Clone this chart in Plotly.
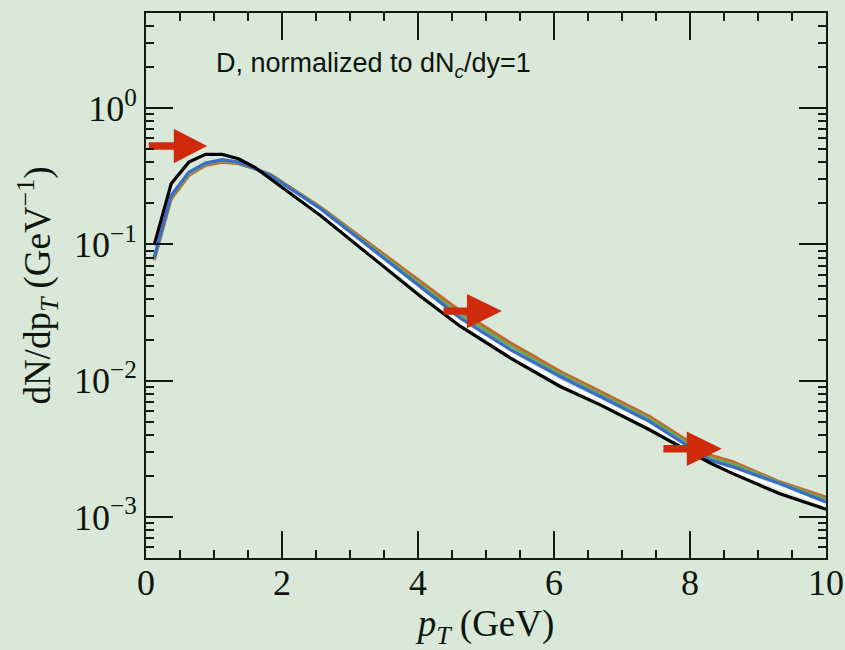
import plotly.graph_objects as go

# ---- data ----
pt = [0.12, 0.37, 0.63, 0.875, 1.12, 1.36, 1.6, 1.83, 2.57, 3.30, 4.03, 4.62, 5.36,
      6.09, 6.68, 7.41, 8.29, 8.63, 9.32, 10.0]

black = [0.099, 0.279, 0.402, 0.4585, 0.4585, 0.426, 0.368, 0.3035, 0.1627, 0.0825,
         0.0418, 0.02514, 0.01468, 0.00907, 0.00665, 0.00435, 0.0025, 0.00208, 0.00148, 0.00114]
white = [0.0802, 0.2286, 0.3396, 0.3956, 0.419, 0.402, 0.362, 0.314, 0.172, 0.0885,
         0.0455, 0.0269, 0.01575, 0.00985, 0.00712, 0.00466, 0.00255, 0.00220, 0.00161, 0.00121]
blue = [0.0802, 0.2286, 0.3396, 0.3956, 0.419, 0.402, 0.362, 0.321, 0.1824, 0.0950,
        0.0496, 0.02894, 0.01693, 0.01075, 0.00766, 0.00501, 0.002615, 0.002333, 0.00176, 0.00129]
green = [0.0785, 0.222, 0.330, 0.388, 0.411, 0.397, 0.361, 0.324, 0.185, 0.098,
         0.0518, 0.0307, 0.0180, 0.01125, 0.00802, 0.00525, 0.00274, 0.00245, 0.00179, 0.00135]
orange = [0.0767, 0.216, 0.321, 0.380, 0.402, 0.3916, 0.36, 0.3265, 0.1874, 0.1007,
          0.054, 0.03243, 0.01893, 0.0117, 0.00834, 0.00545, 0.002846, 0.00254, 0.00181, 0.0014]

# red arrows: tail pT, shaft-end pT, tip pT, centre log10(y)
arrow_tail = [0.04, 4.376, 7.609]
arrow_neck = [0.409, 4.72, 7.953]
arrow_tip = [0.899, 5.234, 8.467]
arrow_logy = [-0.277, -1.489, -2.499]
shaft_half = 0.027   # decades
head_half = 0.126    # decades

y_ticks = [1e-3, 1e-2, 1e-1, 1]
y_ticktext = ["10<sup>\u22123</sup>", "10<sup>\u22122</sup>", "10<sup>\u22121</sup>", "10<sup>0</sup>"]
y_minor = [m * 10.0 ** e for e in range(-4, 1) for m in range(2, 10)]
x_ticks = [0, 2, 4, 6, 8, 10]

BG = "#d9e8d8"
AX = "#0f1c0f"
TXT = "#0d160d"

fig = go.Figure()

def add_line(y, color, width):
    fig.add_trace(go.Scatter(x=pt, y=y, mode="lines",
                             line=dict(color=color, width=width), showlegend=False,
                             hoverinfo="skip"))

add_line(white, "#ffffff", 3)
add_line(orange, "#c9652a", 3.2)
add_line(green, "#6aa85a", 3)
add_line(blue, "#3b6cc6", 3.2)
add_line(black, "#000000", 3.2)

for t, n, p, ly in zip(arrow_tail, arrow_neck, arrow_tip, arrow_logy):
    xs = [t, n, n, p, n, n, t, t]
    ls = [ly + shaft_half, ly + shaft_half, ly + head_half, ly, ly - head_half,
          ly - shaft_half, ly - shaft_half, ly + shaft_half]
    fig.add_trace(go.Scatter(x=xs, y=[10 ** v for v in ls], mode="lines",
                             fill="toself", fillcolor="#cf2a0c",
                             line=dict(color="#cf2a0c", width=0),
                             showlegend=False, hoverinfo="skip"))

fig.add_annotation(text="D, normalized to dN<sub><i>c</i></sub>/dy=1",
                   xref="paper", yref="paper", x=0.100, y=0.905,
                   xanchor="left", yanchor="middle", showarrow=False,
                   font=dict(family="Liberation Sans", size=27, color=TXT))

serif = "Liberation Serif"
fig.update_layout(
    width=845, height=650,
    margin=dict(l=146, r=19, t=13, b=92, autoexpand=False),
    paper_bgcolor=BG, plot_bgcolor=BG,
    font=dict(family=serif, color=TXT),
    xaxis=dict(range=[0, 10], tickmode="array", tickvals=x_ticks,
               ticks="inside", ticklen=27, tickwidth=1.5, tickcolor=AX,
               showline=True, linewidth=2, linecolor=AX, mirror="allticks",
               showgrid=False, zeroline=False, ticklabelstandoff=-8,
               minor=dict(dtick=0.5, ticks="inside", ticklen=8, tickwidth=1.5,
                          tickcolor=AX, showgrid=False),
               tickfont=dict(family=serif, size=36, color=TXT),
               title=dict(text="<i>p<sub>T</sub></i> (GeV)",
                          font=dict(family=serif, size=37, color=TXT),
                          standoff=27)),
    yaxis=dict(type="log", range=[-3.301, 0.699],
               tickmode="array", tickvals=y_ticks, ticktext=y_ticktext,
               ticks="inside", ticklen=27, tickwidth=1.5, tickcolor=AX,
               showline=True, linewidth=2, linecolor=AX, mirror="allticks",
               showgrid=False, zeroline=False,
               minor=dict(tickmode="array", tickvals=y_minor, ticks="inside",
                          ticklen=8, tickwidth=1.5, tickcolor=AX, showgrid=False),
               tickfont=dict(family=serif, size=36, color=TXT),
               title=dict(text="dN/dp<sub><i>T</i></sub> (GeV<sup>\u22121</sup>)",
                          font=dict(family=serif, size=37, color=TXT),
                          standoff=12)),
)

fig.write_html("out.html")
